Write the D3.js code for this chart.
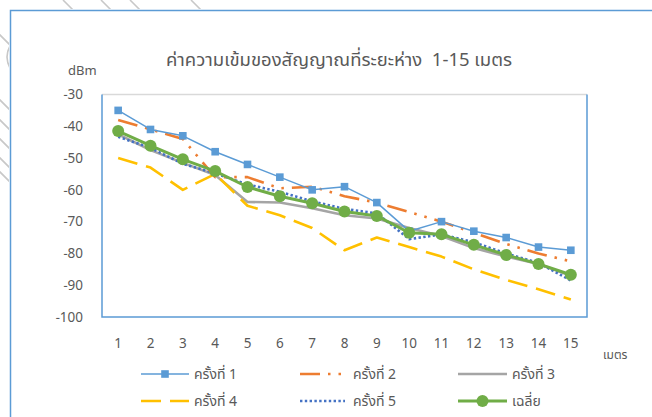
<!DOCTYPE html>
<html><head><meta charset="utf-8">
<script src="https://cdn.jsdelivr.net/npm/d3@7/dist/d3.min.js"></script>
<style>
html,body{margin:0;padding:0;background:#fff;}
svg{display:block;}
text{font-family:"Noto Sans Thai","Leelawadee UI",Tahoma,"Noto Sans","DejaVu Sans",sans-serif;fill:#595959;white-space:pre;}
</style></head>
<body>
<script>
const categories = ["1","2","3","4","5","6","7","8","9","10","11","12","13","14","15"];
const yTicks = [-30,-40,-50,-60,-70,-80,-90,-100];
const seriesNames = ["ครั้งที่ 1","ครั้งที่ 2","ครั้งที่ 3","ครั้งที่ 4","ครั้งที่ 5","เฉลี่ย"];
const run1 = [-35,-41,-43,-48,-52,-56,-60,-59,-64,-73,-70,-73,-75,-78,-79];
const run2 = [-38,-41,-44,-56,-56,-59.5,-59,-62,-64,-67,-70,-73.5,-77,-80,-82.5];
const run3 = [-42.5,-47.5,-51.5,-55.3,-63.8,-64,-65.8,-68,-69,-72,-74.5,-78.3,-81,-83.3,-87];
const run4 = [-50,-53,-60,-55,-65,-68,-72,-79,-75,-78,-81,-85,-88.3,-91.3,-94.5];
const run5 = [-43.3,-46.8,-51.8,-54.8,-58.3,-60.6,-63.6,-66,-67.4,-75.5,-74,-76.5,-80,-83,-88.5];
const avg  = [-41.5,-46.1,-50.4,-54.1,-59.1,-62,-64.2,-66.8,-68.2,-73.5,-74,-77.3,-80.5,-83.3,-86.7];
const title = "ค่าความเข้มของสัญญาณที่ระยะห่าง  1-15 เมตร";
const yUnit = "dBm";
const xUnit = "เมตร";

const W = 652, H = 417;
const svg = d3.select("body").append("svg").attr("width", W).attr("height", H);

// decorative background strokes outside the chart frame
const deco = svg.append("g");
const clip = svg.append("defs").append("clipPath").attr("id","outside");
clip.append("rect").attr("x",0).attr("y",0).attr("width",W).attr("height",9);
clip.append("rect").attr("x",0).attr("y",0).attr("width",9).attr("height",H);
deco.attr("clip-path","url(#outside)");
[63,101,130,191,-35,-100,-120,-139,-158,-172].forEach(c=>{
  deco.append("line").attr("x1",c).attr("y1",0).attr("x2",c+300).attr("y2",300)
    .attr("stroke","#c8c8c8").attr("stroke-width",1.6);
});
deco.append("path").attr("d","M10,46 Q4,57 10,68").attr("fill","none").attr("stroke","#c8c8c8").attr("stroke-width",1.6);

// outer frame
svg.append("path").attr("d",`M10.5,${H} V10.5 H${W}`).attr("fill","none")
  .attr("stroke","#5B9BD5").attr("stroke-width",1.5);

const plot = {l:102, t:94.5, r:587, b:317};
const x = d3.scaleBand().domain(categories).range([plot.l, plot.r]);
const y = d3.scaleLinear().domain([-100,-30]).range([plot.b, plot.t]);

// title
svg.append("text").attr("x",339).attr("y",66).attr("text-anchor","middle")
  .style("font-size","18.5px").text(title);
svg.append("text").attr("x",68).attr("y",75).style("font-size","13px").text(yUnit);

// plot frame
svg.append("line").attr("x1",plot.l).attr("x2",plot.r).attr("y1",plot.t).attr("y2",plot.t)
  .attr("stroke","#D9D9D9").attr("stroke-width",1.3);
svg.append("path").attr("d",`M${plot.l},${plot.t} V${plot.b} H${plot.r} V${plot.t}`)
  .attr("fill","none").attr("stroke","#5B9BD5").attr("stroke-width",1.5);

// axes (labels only)
const yAxis = svg.append("g").attr("transform",`translate(${plot.l},0)`)
  .call(d3.axisLeft(y).tickValues(yTicks).tickSize(0).tickPadding(19));
yAxis.select(".domain").remove();
yAxis.selectAll("text").style("font-size","13.5px").attr("fill","#595959").style("font-family",null);

const xAxis = svg.append("g").attr("transform",`translate(0,${plot.b})`)
  .call(d3.axisBottom(x).tickSize(0).tickPadding(21));
xAxis.select(".domain").remove();
xAxis.selectAll("text").style("font-size","13.5px").attr("fill","#595959").style("font-family",null);

svg.append("text").attr("x",603).attr("y",359).style("font-size","12px").text(xUnit);

const cx = d => x(d) + x.bandwidth()/2;
const line = d3.line().x((d,i)=>cx(categories[i])).y(d=>y(d));

const styles = [
  {data:run1, color:"#5B9BD5", w:1.5, dash:null, marker:"square"},
  {data:run2, color:"#ED7D31", w:2.6, dash:"20 8 2.5 8 2.5 8", marker:null},
  {data:run3, color:"#A5A5A5", w:2.6, dash:null, marker:null},
  {data:run4, color:"#FFC000", w:2.6, dash:"20 9", marker:null},
  {data:run5, color:"#4472C4", w:2.6, dash:"2.4 2.4", marker:null},
  {data:avg,  color:"#70AD47", w:3, dash:null, marker:"circle"}
];

const order = [2,3,4,1,0,5];
order.forEach(k=>{
  const s = styles[k];
  svg.append("path").datum(s.data).attr("d",line).attr("fill","none")
    .attr("stroke",s.color).attr("stroke-width",s.w)
    .attr("stroke-dasharray",s.dash).attr("stroke-linejoin","round");
  if (s.marker==="square") {
    svg.append("g").selectAll("rect").data(s.data).join("rect")
      .attr("x",(d,i)=>cx(categories[i])-3.8).attr("y",d=>y(d)-3.8)
      .attr("width",7.6).attr("height",7.6).attr("fill",s.color);
  } else if (s.marker==="circle") {
    svg.append("g").selectAll("circle").data(s.data).join("circle")
      .attr("cx",(d,i)=>cx(categories[i])).attr("cy",d=>y(d)).attr("r",6)
      .attr("fill",s.color);
  }
});

// legend
const legendPos = [
  {lx:141, rx:189, tx:194, ty:374},
  {lx:300, rx:345, tx:353, ty:374},
  {lx:458, rx:507, tx:512, ty:374},
  {lx:141, rx:189, tx:194, ty:401},
  {lx:300, rx:345, tx:353, ty:401},
  {lx:458, rx:507, tx:512, ty:401}
];
const lg = svg.append("g");
seriesNames.forEach((name,k)=>{
  const s = styles[k], p = legendPos[k];
  lg.append("line").attr("x1",p.lx).attr("x2",p.rx).attr("y1",p.ty).attr("y2",p.ty)
    .attr("stroke",s.color).attr("stroke-width",s.w).attr("stroke-dasharray",s.dash);
  const mx = (p.lx+p.rx)/2;
  if (s.marker==="square") lg.append("rect").attr("x",mx-3.8).attr("y",p.ty-3.8).attr("width",7.6).attr("height",7.6).attr("fill",s.color);
  if (s.marker==="circle") lg.append("circle").attr("cx",mx).attr("cy",p.ty).attr("r",6).attr("fill",s.color);
  lg.append("text").attr("x",p.tx).attr("y",p.ty).attr("dy","0.35em").style("font-size","14px").text(name);
});
</script>
</body></html>
